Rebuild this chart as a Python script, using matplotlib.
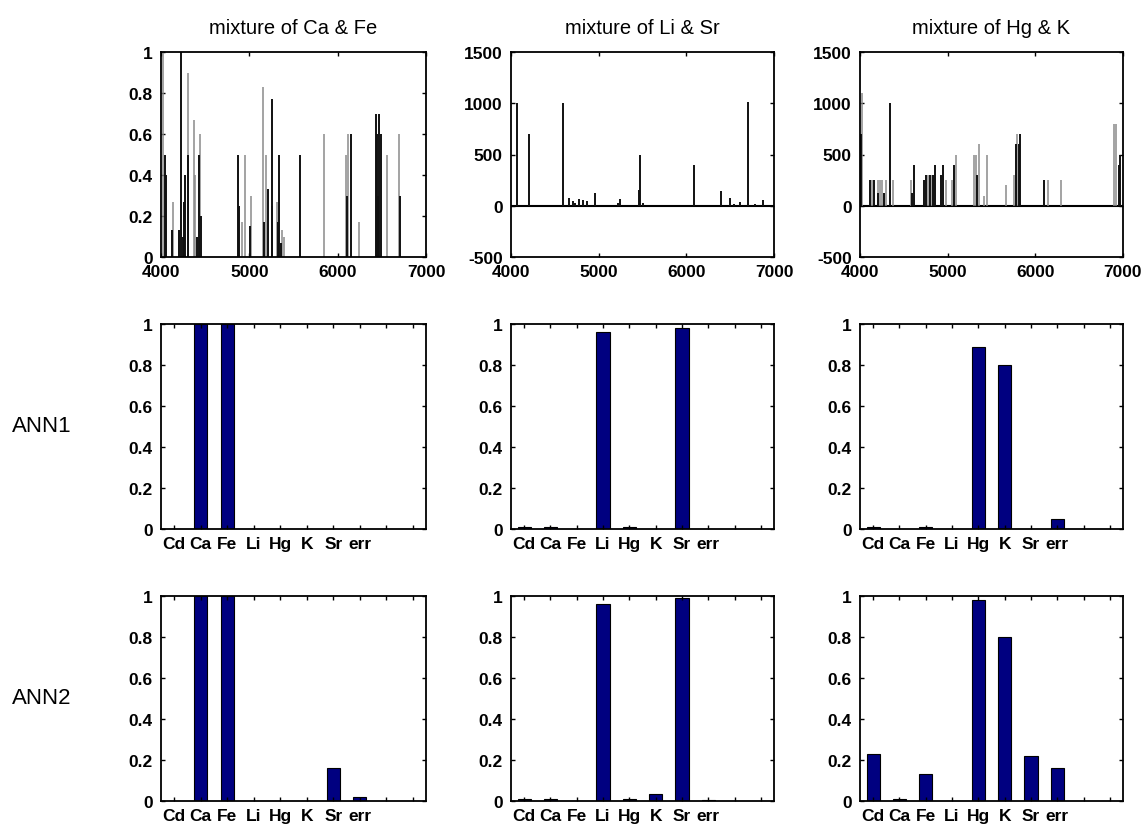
import matplotlib
matplotlib.use("Agg")
import matplotlib.pyplot as plt
import numpy as np

plt.rcParams['font.family'] = ['Liberation Sans', 'DejaVu Sans']

titles = ["mixture of Ca & Fe", "mixture of Li & Sr", "mixture of Hg & K"]
row_names = ["ANN1", "ANN2"]
elements = ["Cd", "Ca", "Fe", "Li", "Hg", "K", "Sr", "err"]

# spectra: wavelength, intensity (black lines and grey lines)
cafe_black_x = [4045, 4055, 4128, 4207, 4226, 4245, 4260, 4270, 4300, 4404, 4430, 4449,
                4868, 4878, 5008, 5170, 5215, 5253, 5260, 5325, 5340, 5355, 5574, 6102,
                6155, 6434, 6445, 6460, 6472, 6487, 6709]
cafe_black_y = [0.5, 0.4, 0.13, 0.13, 1.0, 0.1, 0.27, 0.4, 0.5, 0.1, 0.5, 0.2,
                0.5, 0.25, 0.15, 0.17, 0.33, 0.25, 0.77, 0.17, 0.5, 0.07, 0.5, 0.3,
                0.6, 0.7, 0.6, 0.3, 0.7, 0.6, 0.3]
cafe_grey_x = [4019, 4132, 4302, 4374, 4389, 4445, 4913, 4951, 5015, 5158, 5185, 5313,
               5366, 5392, 5845, 6091, 6113, 6238, 6562, 6698]
cafe_grey_y = [1.0, 0.27, 0.9, 0.67, 0.4, 0.6, 0.17, 0.5, 0.3, 0.83, 0.5, 0.27,
               0.13, 0.1, 0.6, 0.5, 0.6, 0.17, 0.5, 0.6]

lisr_black_x = [4065, 4205, 4597, 4665, 4711, 4730, 4772, 4817, 4863, 4954, 5224, 5243,
                5464, 5475, 5510, 6091, 6399, 6494, 6544, 6608, 6703, 6783, 6871]
lisr_black_y = [1000, 700, 1000, 80, 50, 30, 70, 60, 50, 120, 30, 70,
                150, 500, 30, 400, 140, 80, 20, 40, 1010, 20, 60]
lisr_grey_x = []
lisr_grey_y = []

hgk_black_x = [4011, 4114, 4163, 4201, 4277, 4342, 4596, 4619, 4733, 4748, 4797, 4835,
               4854, 4919, 4942, 5075, 5333, 5777, 5808, 5827, 6100, 6951, 6970]
hgk_black_y = [700, 250, 250, 120, 120, 1000, 120, 400, 250, 300, 300, 300,
               400, 300, 400, 400, 300, 600, 600, 700, 250, 400, 500]
hgk_grey_x = [4027, 4133, 4209, 4228, 4247, 4292, 4380, 4585, 4778, 4816, 4846, 4976,
              5044, 5090, 5303, 5322, 5352, 5410, 5443, 5667, 5762, 5796, 6142, 6290,
              6901, 6924]
hgk_grey_y = [1100, 250, 250, 250, 250, 250, 250, 250, 300, 300, 300, 250,
              250, 500, 500, 500, 600, 100, 500, 200, 300, 700, 250, 250,
              800, 800]

# network outputs (Cd, Ca, Fe, Li, Hg, K, Sr, err)
ann1_cafe = [0, 1.0, 1.0, 0, 0, 0, 0, 0]
ann1_lisr = [0.01, 0.01, 0, 0.96, 0.01, 0, 0.98, 0]
ann1_hgk = [0.01, 0, 0.01, 0, 0.89, 0.80, 0, 0.05]
ann2_cafe = [0, 1.0, 1.0, 0, 0, 0, 0.16, 0.02]
ann2_lisr = [0.01, 0.01, 0, 0.96, 0.01, 0.035, 0.99, 0.005]
ann2_hgk = [0.23, 0.01, 0.13, 0, 0.98, 0.80, 0.22, 0.16]

spectra = [(cafe_black_x, cafe_black_y, cafe_grey_x, cafe_grey_y),
           (lisr_black_x, lisr_black_y, lisr_grey_x, lisr_grey_y),
           (hgk_black_x, hgk_black_y, hgk_grey_x, hgk_grey_y)]
outputs = [[ann1_cafe, ann1_lisr, ann1_hgk], [ann2_cafe, ann2_lisr, ann2_hgk]]

W, H = 1145, 829
fig = plt.figure(figsize=(W / 100, H / 100), dpi=100)

col_left = [161, 511, 860]
col_width = [265, 263, 263]
row_top = [53, 325, 597]
row_h = 205
lab_size = 12.5

def make_ax(r, c):
    l = col_left[c] / W
    b = 1 - (row_top[r] + row_h) / H
    ax = fig.add_axes([l, b, col_width[c] / W, row_h / H])
    ax.tick_params(direction='in', top=True, right=True, length=3, width=1,
                   labelsize=lab_size)
    ax.tick_params(axis='x', pad=5)
    ax.tick_params(axis='y', pad=6)
    for s in ax.spines.values():
        s.set_linewidth(1.3)
    return ax

# spectra row
for c in range(3):
    ax = make_ax(0, c)
    bx, by, gx, gy = spectra[c]
    if c == 0:
        ax.set_ylim(0, 1)
        yt = [0, 0.2, 0.4, 0.6, 0.8, 1]
    else:
        ax.set_ylim(-500, 1500)
        yt = [-500, 0, 500, 1000, 1500]
        ax.axhline(0, color='black', lw=1.5)
    ax.set_yticks(yt)
    ax.set_yticklabels(["%g" % v for v in yt], fontweight='bold')
    ax.vlines(gx, 0, gy, color='#8a8a8a', lw=1.1)
    ax.vlines(bx, 0, by, color='#111111', lw=1.4)
    ax.set_xlim(4000, 7000)
    xt = [4000, 5000, 6000, 7000]
    ax.set_xticks(xt)
    ax.set_xticklabels([str(v) for v in xt], fontweight='bold')
    ax.set_title(titles[c], fontsize=14.5, pad=14)

# bar rows
pos = np.arange(1, len(elements) + 1)
for r in range(2):
    for c in range(3):
        ax = make_ax(r + 1, c)
        ax.bar(pos, outputs[r][c], width=0.5, color='#000080', edgecolor='black', lw=0.8)
        ax.set_xlim(0.5, 10.5)
        ax.set_xticks(np.arange(1, 11))
        ax.set_xticklabels(elements + ["", ""], fontweight='bold')
        ax.set_ylim(0, 1)
        yt = [0, 0.2, 0.4, 0.6, 0.8, 1]
        ax.set_yticks(yt)
        ax.set_yticklabels(["%g" % v for v in yt], fontweight='bold')
    fig.text(12 / W, 1 - (427 + 272 * r) / H, row_names[r],
             fontsize=16, va='center', ha='left')

fig.savefig("out.png", dpi=100)
